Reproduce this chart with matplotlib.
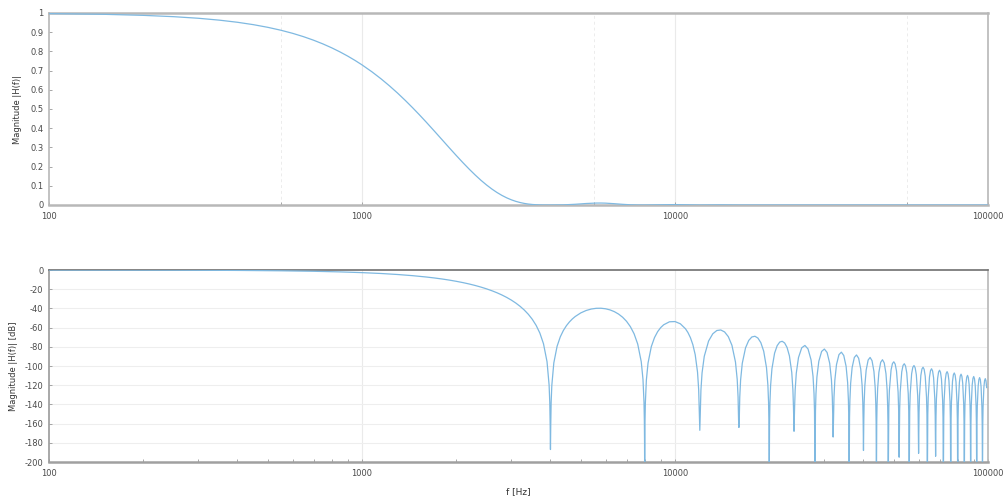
import matplotlib
matplotlib.use("Agg")
import matplotlib.pyplot as plt
from matplotlib.ticker import FixedLocator, NullFormatter

# ---------------- data ----------------
# Top panel: linear magnitude |H(f)|
lin_f = [100, 150, 200, 250, 300, 350, 400, 450, 500, 550, 600, 650, 700, 750, 800, 850,
         900, 950, 1000, 1075, 1150, 1225, 1300, 1375, 1450, 1525, 1600, 1700, 1800, 1900,
         2000, 2100, 2200, 2300, 2400, 2500, 2600, 2700, 2800, 2900, 3000, 3100, 3200, 3300,
         3400, 3500, 3600, 3700, 3800, 4000, 4400, 4800, 5200, 5600, 5800, 6000, 6400, 6800,
         7200, 7600, 8000, 10000, 12000, 14000, 16000, 100000]
lin_mag = [0.9969, 0.9931, 0.9877, 0.9809, 0.9726, 0.9628, 0.9517, 0.9392, 0.9254, 0.9104,
           0.8942, 0.8768, 0.8584, 0.8390, 0.8187, 0.7975, 0.7756, 0.7530, 0.7298, 0.6940,
           0.6573, 0.6200, 0.5824, 0.5446, 0.5071, 0.4700, 0.4335, 0.3862, 0.3410, 0.2981,
           0.2580, 0.2208, 0.1868, 0.1560, 0.1284, 0.1042, 0.0831, 0.0650, 0.0498, 0.0372,
           0.0270, 0.0190, 0.0128, 0.0082, 0.0049, 0.0027, 0.0013, 0.0005, 0.0001, 0.0,
           0.0007, 0.0038, 0.0078, 0.0101, 0.0102, 0.0096, 0.0068, 0.0035, 0.0011, 0.0001,
           0.0, 0.0021, 0.0, 0.0008, 0.0, 0.0]

# Bottom panel: magnitude in dB -- main lobe (100 Hz - 4 kHz)
main_f = [100, 150, 200, 250, 300, 350, 400, 450, 500, 550, 600, 650, 700, 750, 800, 850,
          900, 950, 1000, 1075, 1150, 1225, 1300, 1375, 1450, 1525, 1600, 1700, 1800, 1900,
          2000, 2100, 2200, 2300, 2400, 2500, 2600, 2700, 2800, 2900, 3000, 3100, 3200, 3300,
          3400, 3500, 3600, 3700, 3800, 3900, 3960, 3980, 3992, 4000]
main_db = [-0.03, -0.06, -0.11, -0.17, -0.24, -0.33, -0.43, -0.55, -0.67, -0.82, -0.97,
           -1.14, -1.33, -1.53, -1.74, -1.97, -2.21, -2.46, -2.74, -3.17, -3.64, -4.15,
           -4.70, -5.28, -5.90, -6.56, -7.26, -8.26, -9.34, -10.51, -11.77, -13.12, -14.57,
           -16.14, -17.83, -19.65, -21.61, -23.74, -26.06, -28.59, -31.36, -34.43, -37.86,
           -41.73, -46.17, -51.38, -57.69, -65.71, -76.83, -95.49, -119.74, -137.93,
           -161.9, -187.0]

# sidelobes 1-2 (4 kHz - 12 kHz)
lobe12_f = [4008, 4020, 4040, 4100, 4200, 4300, 4400, 4500, 4600, 4700, 4800, 5000, 5200,
            5400, 5600, 5800, 6000, 6200, 6400, 6600, 6800, 7000, 7200, 7400, 7600, 7800,
            7900, 7960, 7980, 7992, 8000,
            8008, 8020, 8040, 8100, 8200, 8400, 8600, 8800, 9000, 9200, 9600, 10000, 10400,
            10800, 11000, 11200, 11400, 11600, 11800, 11900, 11960, 12000]
lobe12_db = [-161.99, -138.19, -120.26, -96.79, -79.44, -69.62, -62.91, -57.93, -54.05,
             -50.94, -48.43, -44.67, -42.19, -40.66, -39.91, -39.83, -40.40, -41.57, -43.39,
             -45.89, -49.18, -53.44, -59.00, -66.44, -77.16, -95.57, -113.88, -137.93,
             -156.06, -179.98, -220.0,
             -180.03, -156.19, -138.19, -114.54, -96.87, -79.76, -70.36, -64.22, -59.99,
             -57.05, -53.95, -53.71, -56.04, -61.23, -65.22, -70.51, -77.70, -88.17,
             -106.36, -124.56, -148.54, -167.0]

# sidelobes 3-5 (12 kHz - 24 kHz)
lobe35_f = [12040, 12100, 12200, 12400, 12800, 13200, 13600, 14000, 14400, 14800, 15200,
            15600, 15800, 15900, 15960, 16000,
            16040, 16100, 16200, 16400, 16800, 17200, 17600, 18000, 18400, 18800, 19200,
            19600, 19800, 19900, 19960, 20000,
            20040, 20100, 20200, 20400, 20800, 21200, 21600, 22000, 22400, 22800, 23200,
            23600, 23800, 23900, 24000]
lobe35_db = [-148.71, -124.99, -107.23, -89.91, -73.99, -66.46, -63.03, -62.47, -64.52,
             -69.44, -78.47, -95.89, -113.97, -132.11, -156.06, -164.0,
             -156.19, -132.44, -114.62, -97.20, -81.07, -73.36, -69.75, -69.02, -70.90,
             -75.68, -84.55, -101.84, -119.85, -137.96, -161.89, -220.0,
             -161.99, -138.22, -120.37, -102.88, -86.64, -78.81, -75.08, -74.25, -76.03,
             -80.70, -89.49, -106.68, -124.64, -142.73, -168.0]

# sidelobes 6-11 (24 kHz - 48 kHz)
lobe611_f = [24100, 24200, 24400, 24800, 25400, 26000, 26600, 27200, 27600, 27800, 27900, 28000,
             28100, 28200, 28400, 28800, 29400, 30000, 30600, 31200, 31600, 31800, 31900, 32000,
             32100, 32200, 32400, 32800, 33400, 34000, 34600, 35200, 35600, 35800, 35900, 36000,
             36100, 36200, 36400, 36800, 37400, 38000, 38600, 39200, 39600, 39800, 39900, 40000,
             40100, 40200, 40400, 40800, 41400, 42000, 42600, 43200, 43600, 43800, 43900, 44000,
             44100, 44200, 44400, 44800, 45400, 46000, 46600, 47200, 47600, 47800, 47900, 48000]
lobe611_db = [-142.95, -125.07, -107.55, -91.22, -81.01, -78.60, -82.21, -93.63, -110.76, -128.69, -146.76, -220.0,
              -146.95, -129.06, -111.50, -95.12, -84.82, -82.33, -85.86, -97.21, -114.29, -132.19, -150.25, -174.0,
              -150.42, -132.52, -114.94, -98.51, -88.14, -85.59, -89.06, -100.35, -117.39, -135.28, -153.33, -220.0,
              -153.48, -135.57, -117.97, -101.51, -91.09, -88.49, -91.91, -103.15, -120.17, -138.04, -156.08, -188.0,
              -156.21, -138.30, -120.69, -104.20, -93.74, -91.10, -94.48, -105.68, -122.68, -140.53, -158.57, -220.0,
              -158.69, -140.77, -123.15, -106.63, -96.14, -93.47, -96.82, -107.99, -124.96, -142.81, -160.85, -220.0]

# sidelobes 12-24 (48 kHz - 99 kHz)
lobe1224_f = [48200, 48400, 49000, 49500, 50000, 50500, 51000, 51600, 51800, 52000,
              52200, 52400, 53000, 53500, 54000, 54500, 55000, 55600, 55800, 56000,
              56200, 56400, 57000, 57500, 58000, 58500, 59000, 59600, 59800, 60000,
              60200, 60400, 61000, 61500, 62000, 62500, 63000, 63600, 63800, 64000,
              64200, 64400, 65000, 65500, 66000, 66500, 67000, 67600, 67800, 68000,
              68200, 68400, 69000, 69500, 70000, 70500, 71000, 71600, 71800, 72000,
              72200, 72400, 73000, 73500, 74000, 74500, 75000, 75600, 75800, 76000,
              76200, 76400, 77000, 77500, 78000, 78500, 79000, 79600, 79800, 80000,
              80200, 80400, 81000, 81500, 82000, 82500, 83000, 83600, 83800, 84000,
              84200, 84400, 85000, 85500, 86000, 86500, 87000, 87600, 87800, 88000,
              88200, 88400, 89000, 89500, 90000, 90500, 91000, 91600, 91800, 92000,
              92200, 92400, 93000, 93500, 94000, 94500, 95000, 95600, 95800, 96000,
              96200, 96400, 97000, 97500, 98000, 98500, 99000]
lobe1224_db = [-143.03, -125.40, -104.15, -97.44, -95.64, -97.96, -105.19, -127.06, -144.91, -195.0,
               -145.11, -127.47, -106.19, -99.47, -97.65, -99.95, -107.16, -129.01, -146.84, -220.0,
               -147.03, -129.38, -108.09, -101.35, -99.51, -101.80, -108.99, -130.82, -148.65, -191.0,
               -148.82, -131.17, -109.86, -103.10, -101.25, -103.52, -110.70, -132.51, -150.34, -220.0,
               -150.50, -132.84, -111.51, -104.74, -102.88, -105.14, -112.30, -134.10, -151.92, -194.0,
               -152.07, -134.41, -113.07, -106.29, -104.41, -106.66, -113.81, -135.60, -153.41, -220.0,
               -153.56, -135.89, -114.54, -107.74, -105.86, -108.10, -115.24, -137.02, -154.83, -220.0,
               -154.96, -137.29, -115.93, -109.12, -107.23, -109.46, -116.59, -138.36, -156.17, -220.0,
               -156.30, -138.62, -117.25, -110.44, -108.53, -110.75, -117.88, -139.64, -157.44, -220.0,
               -157.56, -139.89, -118.50, -111.68, -109.78, -111.99, -119.11, -140.86, -158.66, -220.0,
               -158.77, -141.09, -119.70, -112.88, -110.96, -113.16, -120.28, -142.02, -159.82, -220.0,
               -159.93, -142.25, -120.84, -114.01, -112.09, -114.29, -121.40, -143.13, -160.93, -220.0,
               -161.04, -143.35, -121.94, -115.11, -113.18, -115.37, -122.47]

x_ticks = [100, 1000, 10000, 100000]
x_ticklabels = ["100", "1000", "10000", "100000"]
lin_yticks = [0, 0.1, 0.2, 0.3, 0.4, 0.5, 0.6, 0.7, 0.8, 0.9, 1]
lin_yticklabels = ["0", "0.1", "0.2", "0.3", "0.4", "0.5", "0.6", "0.7", "0.8", "0.9", "1"]
db_yticks = [-200, -180, -160, -140, -120, -100, -80, -60, -40, -20, 0]
top_marks = [550, 5500, 55000]

# ---------------- figure ----------------
LINE = "#7fb9e1"
TXT = "#4a4a4a"
FS = 6

fig = plt.figure(figsize=(10.04, 5.0), dpi=100)
ax1 = fig.add_axes([0.0488, 0.59, 0.9353, 0.384])
ax2 = fig.add_axes([0.0488, 0.076, 0.9353, 0.384])

db_f = main_f + lobe12_f + lobe35_f + lobe611_f + lobe1224_f
db_v = main_db + lobe12_db + lobe35_db + lobe611_db + lobe1224_db

ax1.plot(lin_f, lin_mag, color=LINE, lw=0.9, zorder=3)
ax2.plot(db_f, db_v, color=LINE, lw=0.9, zorder=3)

for ax in (ax1, ax2):
    ax.set_xscale("log")
    ax.set_xlim(100, 100000)
    ax.xaxis.set_major_locator(FixedLocator(x_ticks))
    ax.set_xticklabels(x_ticklabels)
    ax.tick_params(axis="both", which="both", direction="in", length=2,
                   width=0.6, colors="#999999", labelcolor=TXT, labelsize=FS)
    ax.tick_params(axis="x", pad=5)
    ax.tick_params(axis="y", pad=4)
    for v in (1000, 10000):
        ax.axvline(v, color="#eaeaea", lw=0.8, zorder=1)

# top panel
ax1.set_ylim(0, 1)
ax1.set_yticks(lin_yticks)
ax1.set_yticklabels(lin_yticklabels)
ax1.xaxis.set_minor_locator(FixedLocator(top_marks))
ax1.xaxis.set_minor_formatter(NullFormatter())
for v in top_marks:
    ax1.axvline(v, color="#ececec", lw=0.7, ls=(0, (3, 3)), zorder=1)
for s in ("top", "right", "bottom", "left"):
    ax1.spines[s].set_color("#b8b8b8")
ax1.spines["top"].set_linewidth(1.8)
ax1.spines["bottom"].set_linewidth(1.8)
ax1.spines["left"].set_linewidth(1.2)
ax1.spines["right"].set_linewidth(1.2)
ax1.set_ylabel("Magnitude |H(f)|", fontsize=FS, color="#333333")
ax1.yaxis.set_label_coords(-0.0288, 0.5)

# bottom panel
ax2.set_ylim(-200, 0)
ax2.set_yticks(db_yticks)
ax2.set_yticklabels([str(v) for v in db_yticks])
minor = [m * 10 ** e for e in (2, 3, 4) for m in range(2, 10)]
ax2.xaxis.set_minor_locator(FixedLocator(minor))
ax2.xaxis.set_minor_formatter(NullFormatter())
for v in db_yticks[1:-1]:
    ax2.axhline(v, color="#eeeeee", lw=0.8, zorder=1)
ax2.spines["top"].set_color("#707070")
ax2.spines["top"].set_linewidth(1.2)
ax2.spines["bottom"].set_color("#a0a0a0")
ax2.spines["bottom"].set_linewidth(1.8)
ax2.spines["left"].set_color("#9a9a9a")
ax2.spines["left"].set_linewidth(1.2)
ax2.spines["right"].set_color("#b8b8b8")
ax2.spines["right"].set_linewidth(1.2)
ax2.set_ylabel("Magnitude |H(f)| [dB]", fontsize=FS, color="#333333")
ax2.yaxis.set_label_coords(-0.0335, 0.5)

fig.text(0.5165, 1 - 492 / 500, "f [Hz]", ha="center", va="center",
         fontsize=FS + 0.5, color="#333333")

fig.savefig("out.png", dpi=100)
